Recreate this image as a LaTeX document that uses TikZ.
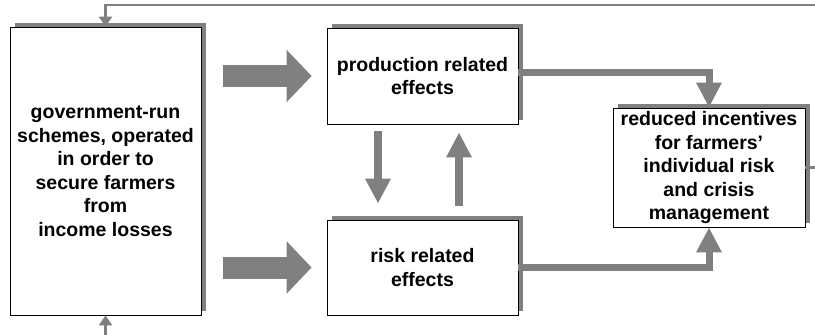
\documentclass[tikz,border=0pt]{standalone}
\usepackage{fontspec}
\setmainfont{Liberation Sans}
\usepackage{tikz}
\usetikzlibrary{arrows.meta,%
                shadows}
\definecolor{flowgray}{RGB}{128,128,128}
\tikzstyle{box}=[draw=black,line width=0.8pt,fill=white,align=center,
  font=\fontsize{19.5}{23.5}\selectfont\bfseries,
  drop shadow={shadow xshift=5pt,shadow yshift=4pt,fill=flowgray,opacity=1}]
\tikzstyle{bigarrow}=[draw=flowgray,line width=22pt,-{Triangle[length=25pt,width=51pt]}]
\tikzstyle{midarrow}=[draw=flowgray,line width=7pt,-{Triangle[length=25pt,width=24pt]}]
\tikzstyle{feedback}=[draw=flowgray,line width=2.5pt,-{Triangle[length=10pt,width=13pt]}]

\begin{document}
\begin{tikzpicture}[x=1pt,y=-1pt]
	  \useasboundingbox (0,0) rectangle (815,335);
	  \node (gov) at (105.5,171) [box,minimum width=191pt,minimum height=288pt] {government-run\\schemes, operated\\in order to\\secure farmers\\from\\ income losses};
	  \node (prod) at (422.5,76) [box,minimum width=191pt,minimum height=96pt] {production related\\effects};
	  \node (risk) at (422.5,267.5) [box,minimum width=191pt,minimum height=95pt] {risk related\\effects};
	  \node (red) at (709,167.5) [box,minimum width=192pt,minimum height=119pt] {reduced incentives\\for farmers’\\ individual risk\\and crisis\\management};
	  \coordinate (loopR) at (830,167.5);
	  \coordinate (loopT) at (830,5);
	  \coordinate (inflow) at (105.5,350);
	  \draw [bigarrow,shorten <=22pt,shorten >=15pt] (gov.east |- prod.west) -- (prod.west);
	  \draw [bigarrow,shorten <=22pt,shorten >=15pt] (gov.east |- risk.west) -- (risk.west);
	  \draw [midarrow,line width=8pt,shorten <=7pt,shorten >=16pt] ([xshift=-44.5pt]prod.south) -- ([xshift=-44.5pt]risk.north);
	  \draw [midarrow,line width=8pt,shorten <=14pt,shorten >=8pt] ([xshift=36.5pt]risk.north) -- ([xshift=36.5pt]prod.south);
	  \draw [midarrow] ([yshift=4pt]prod.east) -| (red.north);
	  \draw [midarrow] (risk.east) -| (red.south);
	  \draw [feedback] (red.east) -- (loopR) -- (loopT) -| (gov.north);
	  \draw [feedback] (inflow) -- (gov.south);
    %
    \end{tikzpicture}
\end{document}
